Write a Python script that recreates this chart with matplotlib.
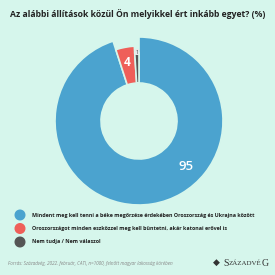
import matplotlib
matplotlib.use("Agg")
import matplotlib.pyplot as plt
from matplotlib.patches import Circle

# adatok
kategoriak = [
    "Mindent meg kell tenni a béke megőrzése érdekében Oroszország és Ukrajna között",
    "Oroszországot minden eszközzel meg kell büntetni, akár katonai erővel is",
    "Nem tudja / Nem válaszol",
]
ertekek = [95, 4, 1]
szinek = ["#4ba3cf", "#ef5f59", "#555555"]
hatter = "#d6f6ec"

W = 275
fig = plt.figure(figsize=(2.75, 2.75), dpi=100, facecolor=hatter)

def px(x, y):
    return x / W, 1 - y / W

# donut
cx, cy, R = 139, 121, 84
x0, y0 = px(cx, cy)
ax = fig.add_axes([x0 - R / W, y0 - R / W, 2 * R / W, 2 * R / W])
ax.set_facecolor("none")
belso = 38 / R
wedges, _ = ax.pie(ertekek, colors=szinek, startangle=90, counterclock=False,
                   radius=1, wedgeprops=dict(width=1 - belso, edgecolor=hatter, linewidth=1.2))
sugarak = [1.0, 75 / R, 68 / R]
for w, r in zip(wedges, sugarak):
    w.set_radius(r)
    w.set_width(r - belso)
ax.set_xlim(-1, 1)
ax.set_ylim(-1, 1)
ax.set_aspect("equal")
ax.axis("off")

fig.text(*px(186, 166), str(ertekek[0]), color="white", fontsize=9.5,
         ha="center", va="center", family="Open Sans", fontweight="semibold")
fig.text(*px(127, 63), str(ertekek[1]), color="white", fontsize=8.5,
         ha="center", va="center", family="Open Sans", fontweight="bold")
fig.text(*px(137, 52), str(ertekek[2]), color="#333333", fontsize=3.5,
         ha="center", va="center", family="Open Sans",
         bbox=dict(facecolor="#e8e8e8", edgecolor="none", pad=0.3))

# cím
fig.text(*px(137.5, 14), "Az alábbi állítások közül Ön melyikkel ért inkább egyet? (%)",
         fontsize=6.25, fontweight="bold", ha="center", va="center",
         family="Open Sans", color="#222222")

# jelmagyarázat
for i, (kat, sz) in enumerate(zip(kategoriak, szinek)):
    yy = 215 + i * 13.5
    fig.patches.append(Circle((20, W - yy), 4.8, transform=None, color=sz))
    fig.text(*px(32, yy), kat, fontsize=3.88, fontweight="bold", ha="left", va="center",
             family="Open Sans", color="#222222")

# forrás
fig.text(*px(8, 264), "Forrás: Századvég, 2022. február, CATI, n=1000, felnőtt magyar lakosság körében",
         fontsize=3.3, style="italic", ha="left", va="center", family="Open Sans", color="#888888")
fig.text(*px(216, 262), "◆", fontsize=6.5, ha="center", va="center", color="#333333")
fig.text(*px(223, 263), "S", fontsize=7, ha="left", va="center",
         family="Liberation Serif", color="#333333")
fig.text(*px(228.5, 263.5), "ZÁZADVÉ", fontsize=5, ha="left", va="center",
         family="Liberation Serif", color="#333333")
fig.text(*px(262, 263), "G", fontsize=7, ha="left", va="center",
         family="Liberation Serif", color="#333333")

fig.savefig("out.png", dpi=100, facecolor=hatter)
